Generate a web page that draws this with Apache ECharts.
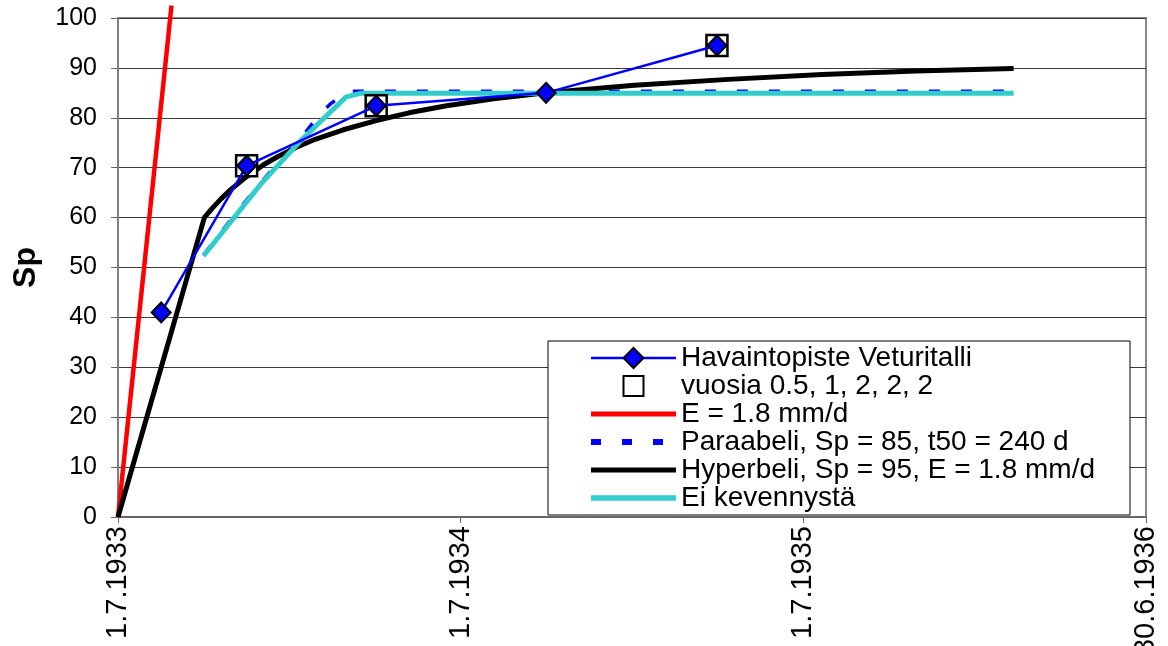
<!DOCTYPE html>
<html><head><meta charset="utf-8">
<script src="https://cdn.jsdelivr.net/npm/echarts@6/dist/echarts.min.js"></script>
<style>html,body{margin:0;padding:0;background:#fff}#c{width:1168px;height:646px}</style>
</head><body><div id="c"></div>
<script>
// ---- data (x = days from 1.7.1933) ----
const xTickLabels = ['1.7.1933', '1.7.1934', '1.7.1935', '30.6.1936'];
const yTicks = [0, 10, 20, 30, 40, 50, 60, 70, 80, 90, 100];

const obsDays = [46, 137, 275, 456, 638];
const obsSp = [41.0, 70.4, 82.4, 85.0, 94.5];

const yearDays = [137, 275, 638];
const yearSp = [70.4, 82.4, 94.5];

const eDays = [0, 57];
const eSp = [0, 102.5];

const paraDays = [91, 128, 171, 199, 213, 227, 245, 954];
const paraSp = [52.5, 61.5, 71.2, 76.9, 80.3, 82.9, 85.3, 85.3];

const hypDays = [0, 92, 100, 110, 120, 137, 155, 170, 190, 210, 240, 274, 310, 350, 400, 456, 550, 650, 750, 850, 954];
const hypSp = [0, 60.0, 61.8, 63.8, 65.6, 68.2, 70.6, 72.2, 74.1, 75.7, 77.6, 79.4, 81.0, 82.4, 83.8, 85.0, 86.5, 87.7, 88.7, 89.4, 89.9];

const eiDays = [91, 153, 195, 243, 258, 954];
const eiSp = [52.3, 66.9, 75.5, 84.2, 84.9, 84.9];

const names = [
  'Havaintopiste Veturitalli',
  'vuosia 0.5, 1, 2, 2, 2',
  'E = 1.8 mm/d',
  'Paraabeli, Sp = 85, t50 = 240 d',
  'Hyperbeli, Sp = 95, E = 1.8 mm/d',
  'Ei kevennystä'
];

const zip = (a, b) => a.map((v, i) => [v, b[i]]);
const FONT = '"Liberation Sans", Arial, sans-serif';
const TICK_DAYS = 365;
const noSym = {opacity: 0};

const chart = echarts.init(document.getElementById('c'), null, {renderer: 'canvas'});
chart.setOption({
  animation: false,
  backgroundColor: '#fff',
  textStyle: {fontFamily: FONT},
  grid: {left: 118, right: 22, top: 18, bottom: 129, show: true, borderColor: '#888', borderWidth: 2,
         containLabel: false, outerBoundsMode: 'none'},
  xAxis: {
    type: 'value', min: 0, max: TICK_DAYS * (xTickLabels.length - 1), interval: TICK_DAYS,
    splitLine: {show: false},
    axisLine: {onZero: false, lineStyle: {color: '#666', width: 2}},
    axisTick: {show: true, length: 6, lineStyle: {color: '#666', width: 1}},
    axisLabel: {
      rotate: 90, margin: 9, fontSize: 29, color: '#000', fontFamily: FONT,
      showMinLabel: true, showMaxLabel: true, hideOverlap: false,
      formatter: v => xTickLabels[Math.round(v / TICK_DAYS)] || ''
    }
  },
  yAxis: {
    type: 'value', min: yTicks[0], max: yTicks[yTicks.length - 1], interval: 10,
    name: 'Sp', nameLocation: 'middle', nameRotate: 90, nameGap: 76,
    nameTextStyle: {fontSize: 32, fontWeight: 'bold', color: '#000', fontFamily: FONT},
    splitLine: {lineStyle: {color: '#3a3a3a', width: 1}},
    axisLine: {show: true, lineStyle: {color: '#808080', width: 2}},
    axisTick: {show: true, length: 7, lineStyle: {color: '#666', width: 1}},
    axisLabel: {margin: 21, fontSize: 25, color: '#000', fontFamily: FONT}
  },
  graphic: [{
    type: 'rect', z: 4, shape: {x: 548, y: 341, width: 582, height: 174},
    style: {fill: '#fff', stroke: '#000', lineWidth: 1}
  }],
  legend: {
    orient: 'vertical', left: 588, top: 344, padding: 0, z: 5,
    itemWidth: 85, itemHeight: 25, itemGap: 0,
    textStyle: {fontSize: 28, lineHeight: 27, color: '#000', fontFamily: FONT},
    data: [
      {name: names[0], lineStyle: {width: 2.5}},
      {name: names[1], lineStyle: {opacity: 0}},
      {name: names[2], lineStyle: {width: 5}, itemStyle: noSym},
      {name: names[3], lineStyle: {width: 6, type: [10, 21]}, itemStyle: noSym},
      {name: names[4], lineStyle: {width: 5}, itemStyle: noSym},
      {name: names[5], lineStyle: {width: 5.5}, itemStyle: noSym}
    ]
  },
  series: [
    {name: names[2], type: 'line', data: zip(eDays, eSp), symbol: 'none', clip: false, z: 2,
     lineStyle: {color: '#FF0000', width: 4.5}, itemStyle: {color: '#FF0000'}},
    {name: names[3], type: 'line', data: zip(paraDays, paraSp), symbol: 'none', z: 2,
     lineStyle: {color: '#0000FF', width: 3.5, type: [11, 21]}, itemStyle: {color: '#0000FF'}},
    {name: names[4], type: 'line', data: zip(hypDays, hypSp), symbol: 'none', z: 2,
     lineStyle: {color: '#000', width: 5}, itemStyle: {color: '#000'}},
    {name: names[5], type: 'line', data: zip(eiDays, eiSp), symbol: 'none', z: 2,
     lineStyle: {color: '#33CCCC', width: 5}, itemStyle: {color: '#33CCCC'}},
    {name: names[1], type: 'line', data: zip(yearDays, yearSp), symbol: 'rect', symbolSize: 21, z: 3,
     showSymbol: true, lineStyle: {opacity: 0, width: 0},
     itemStyle: {color: '#fff', borderColor: '#000', borderWidth: 2.5}},
    {name: names[0], type: 'line', data: zip(obsDays, obsSp), symbol: 'diamond', symbolSize: [19, 20], z: 4,
     showSymbol: true, lineStyle: {color: '#0000FF', width: 2.5},
     itemStyle: {color: '#0000FF', borderColor: '#000', borderWidth: 2}}
  ]
});
</script>
</body></html>
